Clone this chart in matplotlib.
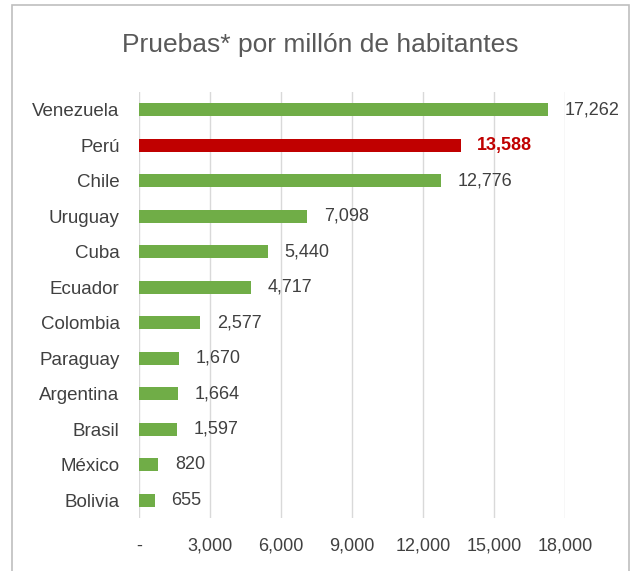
import matplotlib.pyplot as plt
from matplotlib.patches import Rectangle

countries = ["Venezuela", "Perú", "Chile", "Uruguay", "Cuba", "Ecuador",
             "Colombia", "Paraguay", "Argentina", "Brasil", "México", "Bolivia"]
pruebas = [17262, 13588, 12776, 7098, 5440, 4717, 2577, 1670, 1664, 1597, 820, 655]
highlight = "Perú"
xticks = [0, 3000, 6000, 9000, 12000, 15000, 18000]
xtick_labels = ["-", "3,000", "6,000", "9,000", "12,000", "15,000", "18,000"]

plt.rcParams['font.family'] = ['Liberation Sans', 'DejaVu Sans']

green = "#70AD47"
red = "#C00000"
txt = "#404040"

fig = plt.figure(figsize=(6.32, 5.71), dpi=100)
# chart border
fig.patches.append(Rectangle((12 / 632, -0.05), (629 - 12) / 632, 1.05 - 5 / 571,
                             transform=fig.transFigure, fill=False,
                             edgecolor="#BFBFBF", linewidth=1.2))

ax = fig.add_axes([139 / 632, 1 - 518 / 571, 426 / 632, 426 / 571])
ypos = list(range(len(countries)))
colors = [red if c == highlight else green for c in countries]
ax.barh(ypos, pruebas, height=0.36, color=colors, zorder=3)

for y, v, c in zip(ypos, pruebas, countries):
    hl = c == highlight
    ax.annotate(f"{v:,}", (v, y), xytext=(12, 0), textcoords="offset points",
                va="center", ha="left", fontsize=13,
                color=red if hl else txt, fontweight="bold" if hl else "normal")

ax.set_ylim(len(countries) - 0.5, -0.5)
ax.set_xlim(0, 18000)
ax.set_yticks(ypos)
ax.set_yticklabels(countries, fontsize=13.5, color=txt)
ax.set_xticks(xticks)
ax.set_xticklabels(xtick_labels, fontsize=13, color=txt)
ax.tick_params(axis="both", length=0)
ax.tick_params(axis="y", pad=14)
ax.tick_params(axis="x", pad=14)
ax.grid(axis="x", color="#D9D9D9", linewidth=1, zorder=0)
for s in ax.spines.values():
    s.set_visible(False)

fig.text(320 / 632, 1 - 45 / 571, "Pruebas* por millón de habitantes",
         ha="center", va="center", fontsize=19, color="#595959")

fig.savefig("out.png", dpi=100)
